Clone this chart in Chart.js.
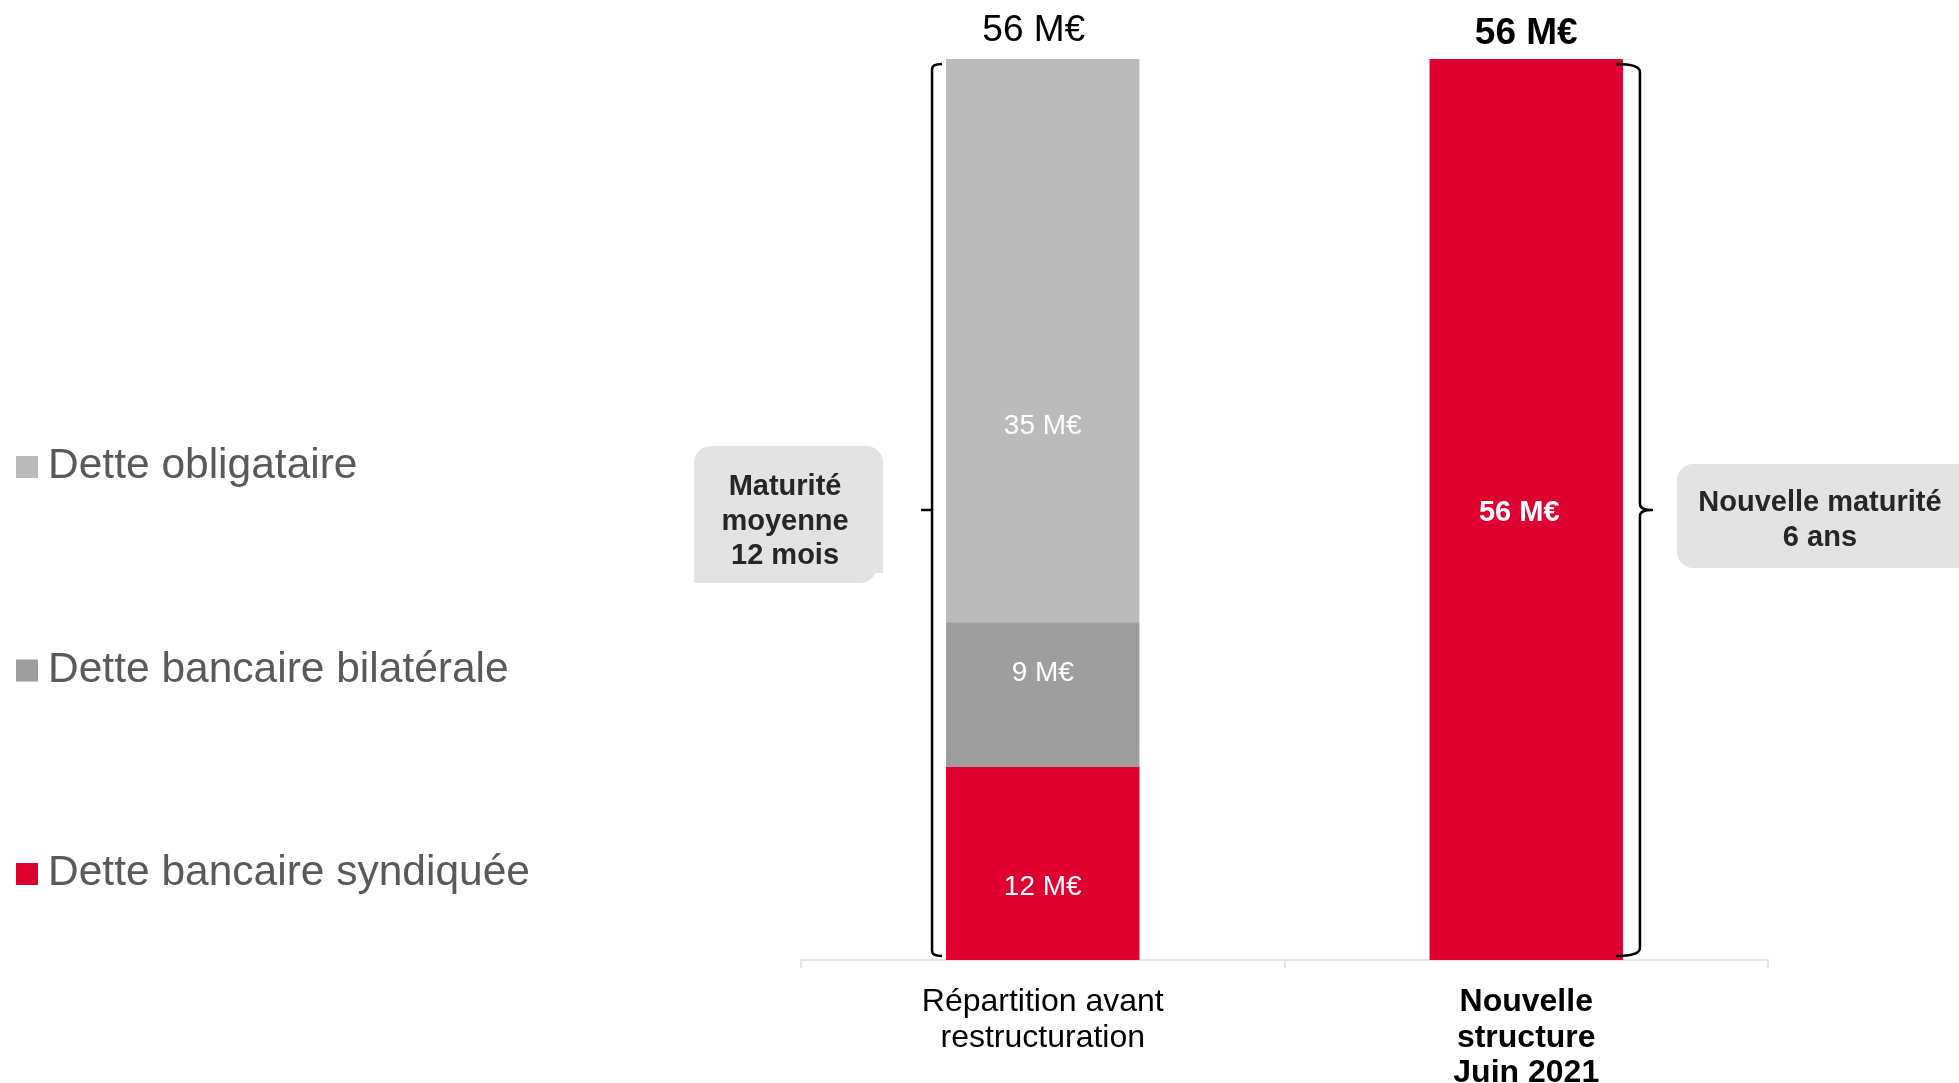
<!DOCTYPE html>
<html>
<head>
<meta charset="utf-8">
<script src="https://cdn.jsdelivr.net/npm/chart.js@4.4.0/dist/chart.umd.min.js"></script>
<style>
    html, body { margin: 0; padding: 0; background: #fff; }
    canvas { display: block; }
</style>
</head>
<body>
<canvas id="myChart" width="1959" height="1083"></canvas>
<script>
// data
var categories = [['Répartition avant', 'restructuration'], ['Nouvelle', 'structure', 'Juin 2021']];
var syndiquee = [12, 56];
var bilaterale = [9, 0];
var obligataire = [35, 0];
var totals = [56, 56];
var seriesNames = ['Dette bancaire syndiquée', 'Dette bancaire bilatérale', 'Dette obligataire'];
var seriesColors = ['#DE0031', '#9E9E9E', '#BBBBBB'];
var calloutLeft = ['Maturité', 'moyenne', '12 mois'];
var calloutRight = ['Nouvelle maturité', '6 ans'];
var unit = ' M€';

var FONT = "'Liberation Sans', Arial, sans-serif";
Chart.defaults.font.family = FONT;

// where the value labels sit inside each segment (axis units), as on the slide
var labelLevels = [[4.5, 27.8], [17.8, null], [33.2, null]];

function font(px, bold) {
    return (bold ? 'bold ' : '') + px + 'px ' + FONT;
}

function roundBox(ctx, x, y, w, h, r) {
    ctx.beginPath();
    ctx.roundRect(x, y, w, h, r);
    ctx.fill();
}

var decorations = {
    id: 'decorations',
    afterDatasetsDraw: function(chart) {
        var ctx = chart.ctx;
        var y = chart.scales.y;
        ctx.save();
        ctx.textAlign = 'center';
        ctx.textBaseline = 'middle';
        ctx.fillStyle = '#fff';
        chart.data.datasets.forEach(function(ds, di) {
            var meta = chart.getDatasetMeta(di);
            ds.data.forEach(function(v, i) {
                if (!v) return;
                var bar = meta.data[i];
                var big = v === totals[i];
                ctx.font = big ? font(29, true) : font(28, false);
                ctx.fillText(v + unit, bar.x - (big ? 7 : 0), y.getPixelForValue(labelLevels[di][i]));
            });
        });
        ctx.restore();
    },
    afterDraw: function(chart) {
        var ctx = chart.ctx;
        var y = chart.scales.y;
        var area = chart.chartArea;
        var bars = chart.getDatasetMeta(0).data;
        ctx.save();

        // totals on top
        ctx.textAlign = 'center';
        ctx.textBaseline = 'alphabetic';
        ctx.fillStyle = '#000';
        ctx.font = font(37, false);
        ctx.fillText(totals[0] + unit, bars[0].x - 9, y.getPixelForValue(totals[0]) - 18);
        ctx.font = font(37, true);
        ctx.fillText(totals[1] + unit, bars[1].x, y.getPixelForValue(totals[1]) - 15);

        // braces
        var top = y.getPixelForValue(totals[0]) + 5;
        var bottom = area.bottom - 4;
        var mid = (top + bottom) / 2;
        ctx.strokeStyle = '#000';
        ctx.lineWidth = 2.5;
        ctx.lineJoin = 'round';

        var lx = bars[0].x - bars[0].width / 2 - 14;
        ctx.beginPath();
        ctx.moveTo(lx + 10, top);
        ctx.quadraticCurveTo(lx, top, lx, top + 5);
        ctx.lineTo(lx, bottom - 5);
        ctx.quadraticCurveTo(lx, bottom, lx + 10, bottom);
        ctx.moveTo(lx, mid);
        ctx.lineTo(lx - 11, mid);
        ctx.stroke();

        var rx = bars[1].x + bars[1].width / 2 + 17;
        ctx.beginPath();
        ctx.moveTo(rx - 24, top);
        ctx.quadraticCurveTo(rx, top, rx, top + 8);
        ctx.lineTo(rx, mid - 6);
        ctx.quadraticCurveTo(rx, mid, rx + 12, mid);
        ctx.quadraticCurveTo(rx, mid, rx, mid + 6);
        ctx.lineTo(rx, bottom - 8);
        ctx.quadraticCurveTo(rx, bottom, rx - 24, bottom);
        ctx.stroke();

        // callouts
        ctx.fillStyle = '#E3E3E3';
        roundBox(ctx, lx - 238, mid - 64, 189, 127, [17, 17, 0, 0]);
        roundBox(ctx, lx - 238, mid + 50, 183, 23, [0, 0, 17, 0]);
        roundBox(ctx, rx + 37, mid - 46, 320, 104, [16, 0, 0, 16]);

        ctx.fillStyle = '#262626';
        ctx.font = font(29, true);
        ctx.textBaseline = 'middle';
        calloutLeft.forEach(function(t, i) {
            ctx.fillText(t, lx - 147, mid - 23 + i * 34.5);
        });
        calloutRight.forEach(function(t, i) {
            ctx.fillText(t, rx + 180, mid - 7 + i * 35);
        });

        // legend, top item first
        ctx.textAlign = 'left';
        ctx.textBaseline = 'alphabetic';
        ctx.font = font(42.5, false);
        var items = chart.data.datasets.slice().reverse();
        items.forEach(function(ds, i) {
            var cy = 463 + i * 203.5;
            ctx.fillStyle = ds.backgroundColor;
            ctx.fillRect(16, cy - 7, 22, 22);
            ctx.fillStyle = '#595959';
            ctx.fillText(ds.label, 48, cy + 15);
        });

        ctx.restore();
    }
};

var ctx = document.getElementById('myChart');
var chart = new Chart(ctx, {
    type: 'bar',
    data: {
        labels: categories,
        datasets: [
            { label: seriesNames[0], data: syndiquee, backgroundColor: seriesColors[0] },
            { label: seriesNames[1], data: bilaterale, backgroundColor: seriesColors[1] },
            { label: seriesNames[2], data: obligataire, backgroundColor: seriesColors[2] }
        ]
    },
    options: {
        responsive: false,
        animation: false,
        devicePixelRatio: 1,
        layout: { padding: { left: 801, right: 191, top: 59, bottom: 0 } },
        datasets: {
            bar: { categoryPercentage: 0.8, barPercentage: 0.5, borderWidth: 0 }
        },
        plugins: {
            legend: { display: false },
            tooltip: { enabled: false }
        },
        scales: {
            x: {
                stacked: true,
                grid: { offset: true, drawOnChartArea: false, color: '#E6E6E6', tickLength: 8, lineWidth: 2 },
                border: { color: '#E6E6E6', width: 2 },
                ticks: {
                    color: '#000',
                    padding: 17,
                    maxRotation: 0,
                    autoSkip: false,
                    font: function(c) {
                        return { size: 32, lineHeight: 1.1, weight: c.index === 1 ? 'bold' : 'normal' };
                    }
                },
                afterFit: function(scale) { scale.height = 123; }
            },
            y: {
                stacked: true,
                display: false,
                min: 0,
                max: 56
            }
        }
    },
    plugins: [decorations]
});
</script>
</body>
</html>
